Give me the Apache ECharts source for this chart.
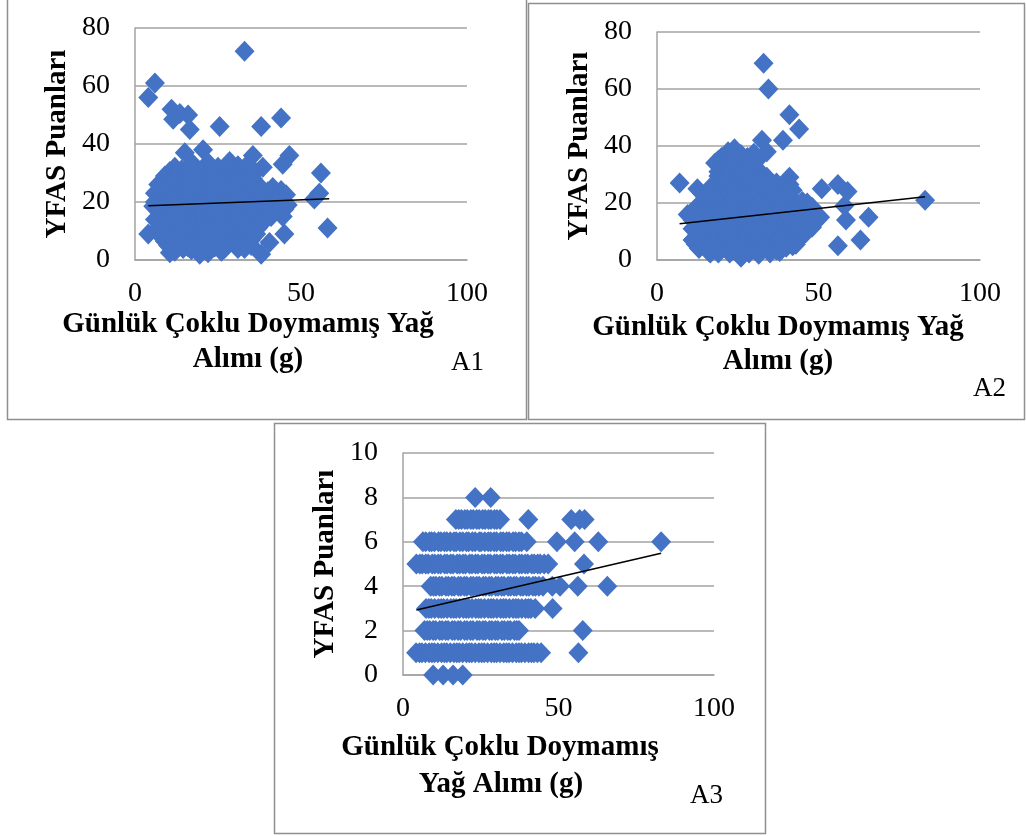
<!DOCTYPE html>
<html>
<head>
<meta charset="utf-8">
<script src="https://cdn.jsdelivr.net/npm/echarts@6/dist/echarts.min.js"></script>
<style>
  html, body { margin: 0; padding: 0; background: #fff; }
  #chart { width: 1026px; height: 836px; }
</style>
</head>
<body>
<div id="chart"></div>
<script>
// A1: daily polyunsaturated fat intake (g) vs YFAS score
const a1Points = [
  [33,72],[6,61],[4,56],[11,52],[13.5,50.5],[16,50],[11.5,48.5],[16.5,45],[25.5,46],[38,46],[44,49],
  [15,37],[20.5,38],[35.5,36],[38.5,32],[46.5,36],[44.5,33],[56,30],[54,21],[55.5,23],[58,11],
  [45,9],[38,2],[40.5,6],[4,9],[10.5,2.5],[19.5,2],[44.5,15],[45.5,22.5],
  [12,32],[17.5,33],[22,33.5],[25,32],[28.5,34],[31,32.5],[34,33],
  [10.5,30.5],[14,31],[20,30.5],[23,31],[26.5,30.5],[29.5,31],[32.5,30.5],[35,31],
  [9,29],[12.5,30],[15,28.5],[18,29.5],[21,29],[24,30],[27,28.5],[30,29.5],[33,29],[36,30],
  [8.5,27.5],[11.5,28],[14.5,27],[17.5,27.5],[20.5,28],[23.5,27.5],[26.5,27],[29.5,28],[32.5,27.5],[35.5,28],
  [7,26],[10,26.5],[13,25.5],[16,26],[19,27],[22,26],[25,26.5],[28,25.5],[31,26],[34,27],[37,26],
  [7.5,24.5],[10.5,24],[13.5,24.5],[16.5,25],[19.5,24.5],[22.5,24],[25.5,24.5],[28.5,24],[31.5,24.5],[34.5,25],[38,24.5],[41.5,25],[44,24],
  [6,23],[9,23.5],[12,22.5],[15,23],[18,24],[21,23],[24,22.5],[27,23.5],[30,23],[33,22],[36,23],[40,23.5],[43,22.5],
  [7.5,21.5],[10.5,22],[13.5,21.5],[16.5,21],[19.5,21.5],[22.5,22],[25.5,21.5],[28.5,21],[31.5,21.5],[34.5,22],[37.5,21.5],[41,21],[44,21.5],
  [6,20],[9,19.5],[12,20.5],[15,20],[18,19],[21,20],[24,20.5],[27,19.5],[30,20],[33,20.5],[36,19.5],[39,20],[42,20.5],[46,19],
  [5.5,18.5],[8.5,18],[11.5,18.5],[14.5,18],[17.5,18.5],[20.5,18],[23.5,18.5],[26.5,18],[29.5,18.5],[32.5,18],[35.5,18.5],[38.5,18],[41.5,18.5],[45,17.5],
  [7,17],[10,16.5],[13,17.5],[16,17],[19,16],[22,17],[25,17.5],[28,16.5],[31,17],[34,16],[37,17],[40,16.5],[43,17.5],
  [7.5,15.5],[10.5,15],[13.5,15.5],[16.5,15],[19.5,15.5],[22.5,15],[25.5,15.5],[28.5,15],[31.5,15.5],[34.5,15],[37.5,15.5],[41,15],
  [6,14],[9,13.5],[12,14.5],[15,14],[18,13],[21,14],[24,14.5],[27,13.5],[30,14],[33,13],[36,14],[39,13.5],
  [8.5,12.5],[11.5,12],[14.5,12.5],[17.5,12],[20.5,12.5],[23.5,12],[26.5,12.5],[29.5,12],[32.5,12.5],[35.5,12],[38,12.5],
  [7,11],[10,10.5],[13,11.5],[16,11],[19,10],[22,11],[25,11.5],[28,10.5],[31,11],[34,10],[37,11],
  [9.5,9.5],[12.5,9],[15.5,9.5],[18.5,9],[21.5,9.5],[24.5,9],[27.5,9.5],[30.5,9],[33.5,9.5],[36.5,9],
  [8,8],[11,7.5],[14,8.5],[17,8],[20,7],[23,8],[26,8.5],[29,7.5],[32,8],[35,7],
  [9,6.5],[12,6],[15,6.5],[18.5,6],[22,6.5],[25.5,6],[29,6.5],[33,6],
  [10,5],[13,5.5],[16,4.5],[20,5],[24,4.5],[28,5.5],[31,4],[35,5],
  [12,3],[14.5,4],[17,3.5],[18,4],[22,2.5],[22.5,4],[26,3],[27,4],[33,4]
];
const a1Trend = [[4, 18.7], [58.5, 21.1]];

// A2
const a2Points = [
  [33,69],[34.5,60],[41,51],[44,46],[39,42],[32.5,42],[34,38],[7,27],[12.5,25],[51,25],[56,26.5],
  [59,24],[58,19],[58.5,14],[65.5,15],[63,7],[56,5],[83,21],[9.5,16],[41,29],
  [18,34],[20,36],[22,38],[24,39],[26,37],[28,36],[30,37.5],
  [19,35],[23,35.5],[27,35],[31,35],
  [19,31],[21,33],[23,34],[25,33],[27,32],[29,34],[31,32],
  [19,29.5],[21,29.5],[23,30],[25,29.5],[27,29.5],[29,30],[31,29.5],[34,29],
  [20,28],[22,30],[24,28],[26,29],[28,30],[30,28],
  [17,26],[20,26.5],[22,26],[24,26.5],[26,26],[28,26.5],[30,26],[34,26],[36,25.5],[39,26],[41,26.5],
  [19,25],[21,26],[23,24],[25,26],[27,25],[29,27],[32,28],[35,27],[37,27],[33,25],[38,24],[40,25],[42,24.5],
  [17,23.5],[20,23.5],[22,23],[24,23.5],[26,23],[28,23.5],[30,23.5],[34,23],[36,23.5],[39,23],[41,23.5],
  [15,22],[18,22],[21,21],[24,22],[27,21],[30,22],[33,21],[36,22],[39,21],[42,21],[45,20.5],
  [13.5,20],[16.5,20],[19.5,19.5],[22.5,20],[25.5,20],[28.5,19.5],[31.5,20],[34.5,20],[37.5,19.5],[40.5,20],[43.5,19.5],[46.5,20],
  [12,18],[15,18],[18,18],[21,18],[24,18],[27,18],[30,18],[33,18],[36,18],[39,18],[42,18],[45,17],[48,18.5],
  [10.5,16.5],[13.5,16.5],[16.5,16],[19.5,16.5],[22.5,16.5],[25.5,16],[28.5,16.5],[31.5,16.5],[34.5,16],[37.5,16.5],[40.5,16.5],[43.5,16],[46.5,16.5],[49,16.5],
  [11,14],[14,15],[17,15],[20,14],[23,15],[26,14],[29,15],[32,14],[35,15],[38,14],[41,15],[44,14],[47,14.5],[50.5,15],
  [12.5,12.5],[15.5,12.5],[18.5,13],[21.5,12.5],[24.5,12.5],[27.5,13],[30.5,12.5],[33.5,12.5],[36.5,13],[39.5,12.5],[42.5,12.5],[45.5,12.5],
  [11,11],[14,11],[17,10.5],[20,11],[23,11],[26,10.5],[29,11],[32,11],[35,10.5],[38,11],[41,11],[44,11],[48,11.5],
  [12.5,9],[15.5,9],[18.5,9.5],[21.5,9],[24.5,9],[27.5,9.5],[30.5,9],[33.5,9],[36.5,9.5],[39.5,9],[42.5,9],[46,9.5],
  [11,7],[14,7],[17,7],[20,6.5],[23,7],[26,7],[29,6.5],[32,7],[35,7],[38,6.5],[41,7],[44,7.5],
  [12,5.5],[15,5.5],[18,5],[21,5.5],[24,5.5],[27,5],[30,5.5],[33,5.5],[36,5],[39,5.5],[43,5.5],
  [13,4],[16,3],[19,4],[22,3.5],[25,4],[28,3],[31,3],[34,4],[37,3.5],[40,4.5],[42,5],
  [19,2.5],[22.5,2.5],[28.5,2.5],[35,2.5],[38,3],
  [26,1],[16.5,2.5],[31.5,2]
];
const a2Trend = [[7, 12.7], [83, 22.2]];

// A3: intake values (g) for each YFAS score level
const a3Score8 = [23.2, 28.2];
const a3Score7 = [17, 17.9, 18.8, 19.9, 20.7, 21.8, 22.6, 23.7, 24.5, 25.6, 26.4, 27.5, 28.3, 29.4, 30.2, 31.2,
  40.3, 54.1, 56.8, 58.4];
const a3Score6 = [6.4, 7.3, 8.5, 9.2, 10.1, 11.4, 12.2, 13.3, 14.1, 15.2, 16.4, 17.1, 18.3, 19.2, 20.4, 21.1, 22.3,
  23.2, 24.5, 25.1, 26.3, 27.4, 28.2, 29.3, 30.1, 31.4, 32.2, 33.3, 34.1, 35.4, 36.2, 37.3, 38.1, 39.8,
  49.5, 55.2, 62.8, 83];
const a3Score5 = [4.3, 5.4, 6.2, 7.3, 8.1, 9.4, 10.2, 11.3, 12.1, 13.4, 14.2, 15.3, 16.1, 17.4, 18.2, 19.3, 20.1,
  21.4, 22.2, 23.3, 24.1, 25.4, 26.2, 27.3, 28.1, 29.4, 30.2, 31.3, 32.1, 33.4, 34.2, 35.3, 36.1, 37.4, 38.2,
  39.3, 40.1, 41.4, 42.2, 43.3, 44.1, 45.4, 46.7, 58.2];
const a3Score4 = [8.9, 9.8, 10.6, 11.7, 12.5, 13.8, 14.6, 15.7, 16.5, 17.8, 18.6, 19.7, 20.5, 21.8, 22.6, 23.7,
  24.5, 25.8, 26.6, 27.7, 28.5, 29.8, 30.6, 31.7, 32.5, 33.8, 34.6, 35.7, 36.5, 37.8, 38.6, 39.7, 40.5, 41.8,
  42.6, 43.7, 45, 48, 50.5, 56.2, 65.7];
const a3Score3 = [7.4, 8.3, 9.1, 10.2, 11.4, 12.3, 13.1, 14.2, 15.4, 16.3, 17.1, 18.2, 19.4, 20.3, 21.1, 22.2,
  23.4, 24.3, 25.1, 26.2, 27.4, 28.3, 29.1, 30.2, 31.4, 32.3, 33.1, 34.2, 35.4, 36.3, 37.1, 38.2, 39.4, 40.3,
  41.1, 42.5, 48.1];
const a3Score2 = [6.9, 7.8, 8.6, 9.7, 10.5, 11.8, 12.6, 13.7, 14.5, 15.8, 16.6, 17.7, 18.5, 19.8, 20.6, 21.7,
  22.5, 23.8, 24.6, 25.7, 26.5, 27.8, 28.6, 29.7, 30.5, 31.8, 32.6, 33.7, 34.5, 35.8, 36.6, 37.3, 57.8];
const a3Score1 = [4.2, 5.3, 6.1, 7.2, 8.4, 9.3, 10.1, 11.2, 12.4, 13.3, 14.1, 15.2, 16.4, 17.3, 18.1, 19.2, 20.4,
  21.3, 22.1, 23.2, 24.4, 25.3, 26.1, 27.2, 28.4, 29.3, 30.1, 31.2, 32.4, 33.3, 34.1, 35.2, 36.4, 37.3, 38.1,
  39.2, 40.4, 41.3, 42.1, 43.2, 44.4, 56.4];
const a3Score0 = [9.7, 12.9, 16.1, 19.2];
const a3Trend = [[4.3, 2.93], [83, 5.48]];

const a3Points = [];
[a3Score0, a3Score1, a3Score2, a3Score3, a3Score4, a3Score5, a3Score6, a3Score7, a3Score8].forEach(function (xs, score) {
  xs.forEach(function (x) { a3Points.push([x, score]); });
});

const xTicks = { min: 0, max: 100, interval: 50 };
const yTicksA12 = { min: 0, max: 80, interval: 20 };
const yTicksA3 = { min: 0, max: 10, interval: 2 };

const xTitle12 = ['Günlük Çoklu Doymamış Yağ', 'Alımı (g)'];
const xTitle3 = ['Günlük Çoklu Doymamış', 'Yağ Alımı (g)'];
const yTitle = 'YFAS Puanları';
const panelTags = ['A1', 'A2', 'A3'];

const SERIF = '"Liberation Serif", "Times New Roman", serif';
const BLUE = '#4472C4';
const GRID_COLOR = '#a3a3a3';
const BORDER_COLOR = '#8f8f8f';

const grids = [
  { left: 135, top: 28, width: 332, height: 232 },
  { left: 657, top: 32, width: 323, height: 228 },
  { left: 403, top: 453, width: 311, height: 222 }
];

function xAxisFor(i) {
  return {
    gridIndex: i, type: 'value', min: xTicks.min, max: xTicks.max, interval: xTicks.interval,
    axisLine: { show: true, lineStyle: { color: GRID_COLOR, width: 1.5 } },
    axisTick: { show: false },
    splitLine: { show: false },
    axisLabel: { fontFamily: SERIF, fontSize: 28, color: '#000', margin: 20 }
  };
}
function yAxisFor(i, ticks) {
  return {
    gridIndex: i, type: 'value', min: ticks.min, max: ticks.max, interval: ticks.interval,
    axisLine: { show: true, lineStyle: { color: GRID_COLOR, width: 1.5 } },
    axisTick: { show: false },
    splitLine: { show: true, lineStyle: { color: GRID_COLOR, width: 1.5 } },
    axisLabel: { fontFamily: SERIF, fontSize: 28, color: '#000', margin: 25 },
    name: yTitle, nameLocation: 'middle', nameRotate: 90, nameGap: 63,
    nameTextStyle: { fontFamily: SERIF, fontSize: 29, fontWeight: 'bold', color: '#000' }
  };
}
function scatterFor(i, data) {
  return {
    type: 'scatter', xAxisIndex: i, yAxisIndex: i, data: data,
    symbol: 'diamond', symbolSize: [20, 21],
    itemStyle: { color: BLUE, opacity: 1 },
    silent: true, z: 2
  };
}
function trendFor(i, data) {
  return {
    type: 'line', xAxisIndex: i, yAxisIndex: i, data: data,
    showSymbol: false, symbol: 'none',
    lineStyle: { color: '#000', width: 1.5 },
    silent: true, z: 5
  };
}
function text(str, x, y, size, bold) {
  return {
    type: 'text', x: x, y: y, silent: true,
    style: {
      text: str, fill: '#000', textAlign: 'center', textVerticalAlign: 'middle',
      font: (bold ? 'bold ' : '') + size + 'px ' + SERIF
    }
  };
}
function frame(x1, y1, x2, y2) {
  return {
    type: 'rect', silent: true,
    shape: { x: x1, y: y1, width: x2 - x1, height: y2 - y1 },
    style: { fill: 'none', stroke: BORDER_COLOR, lineWidth: 1.5 }
  };
}

const chart = echarts.init(document.getElementById('chart'), null, { renderer: 'canvas' });
chart.setOption({
  backgroundColor: '#fff',
  animation: false,
  grid: grids,
  xAxis: [xAxisFor(0), xAxisFor(1), xAxisFor(2)],
  yAxis: [yAxisFor(0, yTicksA12), yAxisFor(1, yTicksA12), yAxisFor(2, yTicksA3)],
  series: [
    scatterFor(0, a1Points), trendFor(0, a1Trend),
    scatterFor(1, a2Points), trendFor(1, a2Trend),
    scatterFor(2, a3Points), trendFor(2, a3Trend)
  ],
  graphic: [
    frame(7.5, -2, 526.5, 419.5),
    frame(528.5, 3.5, 1024.5, 419.5),
    frame(274.5, 423.5, 765.5, 833.5),
    text(xTitle12[0], 248, 325, 29, true),
    text(xTitle12[1], 248, 360, 29, true),
    text(xTitle12[0], 778, 328, 29, true),
    text(xTitle12[1], 778, 362, 29, true),
    text(xTitle3[0], 500, 748, 29, true),
    text(xTitle3[1], 501, 785, 29, true),
    text(panelTags[0], 467.5, 363, 27, false),
    text(panelTags[1], 989.5, 389, 27, false),
    text(panelTags[2], 706.5, 796, 27, false)
  ]
});
</script>
</body>
</html>
